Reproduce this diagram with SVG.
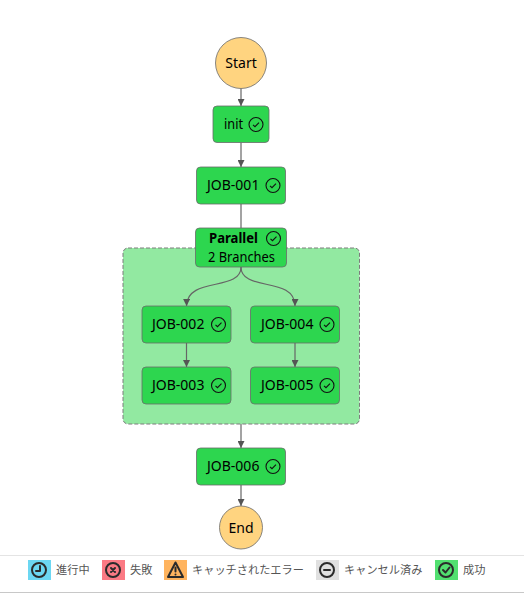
<svg xmlns="http://www.w3.org/2000/svg" width="524" height="593" viewBox="0 0 524 593">
<style>
text{font-family:"Noto Sans","Noto Sans CJK JP",sans-serif;font-size:14px;fill:#000}
.n{fill:#2dd64f;stroke:#6b6b6b;stroke-width:.8}
.c{fill:#ffd480;stroke:#6b6b6b;stroke-width:.8}
.e{fill:none;stroke:#666;stroke-width:1.2}
.t{fill:none;stroke:#111;stroke-width:1.1}
.m{fill:none;stroke:#2b2b2b;stroke-width:2;stroke-linecap:round;stroke-linejoin:round}
.l{font-size:11.2px;fill:#555}
</style>
<defs>
<marker id="a" markerWidth="8" markerHeight="7" refX="7" refY="3.5" orient="auto" markerUnits="userSpaceOnUse"><path d="M0 0L7 3.5L0 7z" fill="#555"/></marker>
<g id="chk"><circle r="7" class="t"/><path d="M-3 0.3L-1 2.2L3 -1.8" class="t"/></g>
</defs>
<rect width="524" height="593" fill="#fff"/>
<g id="parallel-area"><rect x="123" y="248" width="236.500" height="176" rx="5" fill="#92e9a1" stroke="#7d7d7d" stroke-dasharray="4 2"/></g>
<g id="connectors">
<path class="e" marker-end="url(#a)" d="M241 88.500V106"/>
<path class="e" marker-end="url(#a)" d="M241 142.500V167"/>
<path class="e" d="M241 204V228"/>
<path class="e" marker-end="url(#a)" d="M241 267C241 292 187 276 186.500 306"/>
<path class="e" marker-end="url(#a)" d="M241 267C241 292 295 276 295 306"/>
<path class="e" marker-end="url(#a)" d="M186.500 343V367"/>
<path class="e" marker-end="url(#a)" d="M295 343V367"/>
<path class="e" marker-end="url(#a)" d="M241 424V448"/>
<path class="e" marker-end="url(#a)" d="M241 485V506"/>
</g>
<g id="start"><circle cx="241" cy="63" r="25.500" class="c"/><text x="241" y="68" text-anchor="middle">Start</text></g>
<g id="init"><rect x="213" y="106" width="56" height="36.500" rx="4" class="n"/><text x="224" y="129" textLength="19" lengthAdjust="spacingAndGlyphs">init</text><use href="#chk" x="256" y="124.500"/></g>
<g id="job-001"><rect x="196.500" y="167" width="89" height="37" rx="4" class="n"/><text x="207" y="190">JOB-001</text><use href="#chk" x="273" y="185.500"/></g>
<g id="parallel"><rect x="195.500" y="228" width="91" height="39" rx="4" class="n"/><text x="209" y="243" font-weight="700" textLength="49" lengthAdjust="spacingAndGlyphs">Parallel</text><use href="#chk" x="273.500" y="238.500"/><text x="208" y="262" textLength="67" lengthAdjust="spacingAndGlyphs">2 Branches</text></g>
<g id="job-002"><rect x="142" y="306" width="89" height="37" rx="4" class="n"/><text x="152" y="329">JOB-002</text><use href="#chk" x="218.500" y="324.500"/></g>
<g id="job-003"><rect x="142" y="367" width="89" height="37" rx="4" class="n"/><text x="152" y="390">JOB-003</text><use href="#chk" x="218.500" y="385.500"/></g>
<g id="job-004"><rect x="250.500" y="306" width="89" height="37" rx="4" class="n"/><text x="261" y="329">JOB-004</text><use href="#chk" x="327" y="324.500"/></g>
<g id="job-005"><rect x="250.500" y="367" width="89" height="37" rx="4" class="n"/><text x="261" y="390">JOB-005</text><use href="#chk" x="327" y="385.500"/></g>
<g id="job-006"><rect x="196.500" y="448" width="89" height="37" rx="4" class="n"/><text x="207" y="471">JOB-006</text><use href="#chk" x="273" y="466.500"/></g>
<g id="end"><circle cx="241" cy="527.500" r="21.500" class="c"/><text x="241" y="533" text-anchor="middle">End</text></g>
<g id="legend">
<path d="M0 555.500H524" stroke="#e4e4e4" fill="none"/><path d="M0 592.500H524" stroke="#c8c8c8" fill="none"/>
<rect x="28" y="560" width="23" height="20" fill="#6cd7f2"/><circle cx="39" cy="570" r="7" class="m"/><path class="m" d="M40 566V571H36"/><text class="l" x="56" y="574">進行中</text>
<rect x="102" y="560" width="23" height="20" fill="#fb7a84"/><circle cx="113" cy="570" r="7" class="m"/><path class="m" d="M111 568L115 572M115 568L111 572"/><text class="l" x="130" y="574">失敗</text>
<rect x="164" y="560" width="23" height="20" fill="#ffb45f"/><path class="m" d="M175.500 562.500L183 577H168zM175.500 567.500V571.500M175.500 574.500V574.600"/><text class="l" x="192" y="574">キャッチされたエラー</text>
<rect x="316" y="560" width="23" height="20" fill="#e0e0e0"/><circle cx="327" cy="570" r="7" class="m"/><path class="m" d="M324 570H330"/><text class="l" x="344" y="574">キャンセル済み</text>
<rect x="435" y="560" width="23" height="20" fill="#52e070"/><circle cx="446" cy="570" r="7" class="m"/><path class="m" d="M443 570L445.500 572.500L449.500 567.500"/><text class="l" x="463" y="574">成功</text>
</g>
</svg>
